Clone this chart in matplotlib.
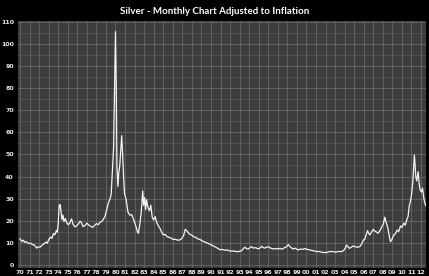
import numpy as np
import matplotlib
matplotlib.use("Agg")
import matplotlib.pyplot as plt
from matplotlib.ticker import MultipleLocator

# silver price adjusted to inflation (year, value)
years = [1970.0, 1970.2, 1970.35, 1970.5, 1970.7, 1970.9, 1971.1, 1971.3, 1971.5, 1971.75,
         1971.9, 1972.1, 1972.3, 1972.5, 1972.7, 1972.85, 1973.0, 1973.2, 1973.35, 1973.5,
         1973.65, 1973.8, 1973.9, 1974.0, 1974.1, 1974.2, 1974.3, 1974.4, 1974.5, 1974.6,
         1974.75, 1974.9, 1975.05, 1975.2, 1975.4, 1975.55, 1975.75, 1975.9, 1976.1, 1976.3,
         1976.45, 1976.6, 1976.8, 1977.0, 1977.2, 1977.4, 1977.6, 1977.8, 1978.0, 1978.2,
         1978.4, 1978.55, 1978.7, 1978.9, 1979.1, 1979.25, 1979.4, 1979.55, 1979.7, 1979.8,
         1979.9, 1980.0, 1980.08, 1980.15, 1980.25, 1980.35, 1980.45, 1980.55, 1980.65, 1980.75,
         1980.85, 1980.95, 1981.1, 1981.3, 1981.5, 1981.7, 1981.9, 1982.1, 1982.3, 1982.4,
         1982.55, 1982.7, 1982.85, 1982.95, 1983.05, 1983.15, 1983.25, 1983.4, 1983.55, 1983.7,
         1983.85, 1984.0, 1984.15, 1984.3, 1984.45, 1984.65, 1984.8, 1985.0, 1985.2, 1985.4,
         1985.6, 1985.8, 1986.05, 1986.3, 1986.5, 1986.75, 1986.95, 1987.15, 1987.3, 1987.45,
         1987.6, 1987.8, 1988.0, 1988.15, 1988.4, 1988.6, 1988.85, 1989.1, 1989.3, 1989.55,
         1989.8, 1990.05, 1990.25, 1990.5, 1990.75, 1990.95, 1991.2, 1991.45, 1991.65, 1991.9,
         1992.15, 1992.4, 1992.7, 1992.95, 1993.2, 1993.4, 1993.55, 1993.75, 1993.9, 1994.1,
         1994.25, 1994.45, 1994.7, 1994.9, 1995.1, 1995.3, 1995.5, 1995.65, 1995.8, 1996.0,
         1996.25, 1996.5, 1996.75, 1997.0, 1997.2, 1997.45, 1997.7, 1997.9, 1998.1, 1998.25,
         1998.4, 1998.6, 1998.8, 1999.0, 1999.15, 1999.4, 1999.6, 1999.8, 2000.0, 2000.25,
         2000.5, 2000.75, 2001.05, 2001.3, 2001.55, 2001.8, 2002.1, 2002.35, 2002.6, 2002.8,
         2003.0, 2003.25, 2003.5, 2003.7, 2003.9, 2004.05, 2004.2, 2004.35, 2004.5, 2004.7,
         2004.9, 2005.1, 2005.35, 2005.6, 2005.8, 2005.95, 2006.1, 2006.25, 2006.4, 2006.55,
         2006.65, 2006.8, 2007.0, 2007.15, 2007.3, 2007.5, 2007.7, 2007.9, 2008.05, 2008.2,
         2008.35, 2008.5, 2008.65, 2008.8, 2008.95, 2009.15, 2009.3, 2009.5, 2009.65, 2009.85,
         2010.0, 2010.2, 2010.35, 2010.5, 2010.65, 2010.75, 2010.9, 2011.0, 2011.15, 2011.3,
         2011.38, 2011.45, 2011.55, 2011.7, 2011.8, 2011.9, 2012.05, 2012.15, 2012.3, 2012.4,
         2012.5]
values = [11.8, 10.6, 11.2, 10.2, 10.5, 9.6, 9.9, 9.2, 9.0, 7.6,
          8.2, 8.0, 8.9, 9.5, 10.3, 9.8, 11.4, 12.6, 12.0, 14.2,
          13.6, 15.5, 14.8, 18.5, 26.8, 27.3, 24.0, 20.5, 22.5, 19.6,
          21.0, 19.0, 18.2, 18.8, 20.8, 18.5, 17.2, 17.6, 18.5, 19.8,
          19.0, 17.3, 17.8, 18.9, 18.0, 17.5, 17.0, 17.8, 18.7, 18.2,
          19.4, 19.6, 20.5, 21.9, 25.5, 28.0, 29.5, 32.0, 45.0, 53.0,
          80.0, 105.6, 82.0, 45.0, 35.5, 42.0, 45.0, 52.0, 58.5, 50.0,
          40.0, 32.0, 30.0, 24.0, 22.5, 22.8, 20.5, 18.0, 15.0, 14.3,
          18.5, 24.0, 33.5, 27.0, 30.5, 25.0, 29.5, 26.0, 24.5, 27.0,
          21.5, 20.4, 21.9, 19.5, 18.0, 16.6, 15.2, 13.6, 13.8, 12.8,
          12.5, 12.2, 11.5, 11.6, 11.2, 11.3, 12.0, 13.5, 16.1, 15.6,
          14.6, 13.8, 13.5, 12.8, 12.5, 11.8, 11.5, 10.8, 10.5, 10.0,
          9.6, 9.0, 8.6, 8.0, 7.4, 6.9, 7.0, 6.6, 6.8, 6.4,
          6.2, 6.3, 6.0, 6.1, 6.4, 7.4, 8.0, 7.3, 7.2, 7.8,
          8.3, 7.6, 7.8, 7.3, 7.5, 8.4, 7.8, 7.6, 8.0, 8.2,
          7.6, 7.2, 7.4, 7.2, 7.5, 7.1, 7.8, 8.2, 9.2, 8.4,
          7.8, 7.2, 7.6, 7.1, 6.8, 7.2, 7.0, 7.4, 7.1, 6.9,
          6.6, 6.4, 6.0, 6.1, 5.8, 5.6, 5.6, 6.0, 6.1, 6.0,
          5.8, 6.0, 6.1, 6.0, 6.6, 7.4, 9.0, 8.2, 7.5, 8.0,
          8.6, 8.2, 8.0, 8.3, 9.6, 11.3, 11.5, 13.5, 15.5, 14.0,
          13.6, 14.8, 16.1, 15.3, 15.0, 14.3, 15.6, 17.3, 18.5, 21.6,
          19.0, 17.3, 13.5, 10.5, 11.5, 13.6, 14.0, 15.8, 15.0, 17.6,
          17.0, 18.9, 18.0, 20.4, 22.0, 26.4, 29.0, 31.7, 38.0, 49.8,
          45.0, 40.0, 38.0, 42.2, 37.0, 34.0, 33.0, 34.7, 30.0, 27.9,
          26.8]

year_ticks = list(range(1970, 2013))
year_labels = ["%02d" % (y % 100) for y in year_ticks]
value_ticks = list(range(0, 111, 10))

fig = plt.figure(figsize=(4.29, 2.76), dpi=100, facecolor="black")
ax = fig.add_axes([18 / 429, 1 - 268 / 276, 408 / 429, 247 / 276])
ax.set_facecolor("#3d3d3d")

ax.plot(years, values, color="#f4f4f4", lw=0.9, solid_joinstyle="round")

ax.set_xlim(1969.79, 2012.52)
ax.set_ylim(-1.4, 110.4)
ax.set_xticks(year_ticks)
ax.set_xticklabels(year_labels)
ax.set_yticks(value_ticks)
ax.yaxis.set_minor_locator(MultipleLocator(5))

ax.grid(True, which="major", color="#696969", lw=0.6)
ax.grid(True, which="minor", axis="y", color="#595959", lw=0.5)
ax.set_axisbelow(True)
for s in ax.spines.values():
    s.set_visible(False)

ax.tick_params(which="both", length=0, colors="#e8e8e8", labelsize=4.5, pad=1.5)
ax.tick_params(axis="y", pad=3)
for lbl in ax.get_xticklabels() + ax.get_yticklabels():
    lbl.set_fontweight("bold")
    lbl.set_family("DejaVu Sans")

fig.text(0.5, 1 - 12 / 276, "Silver - Monthly Chart Adjusted to Inflation",
         color="white", fontsize=7.0, fontweight="bold", family="Lato",
         ha="center", va="center")

fig.savefig("out.png", dpi=100, facecolor="black")
